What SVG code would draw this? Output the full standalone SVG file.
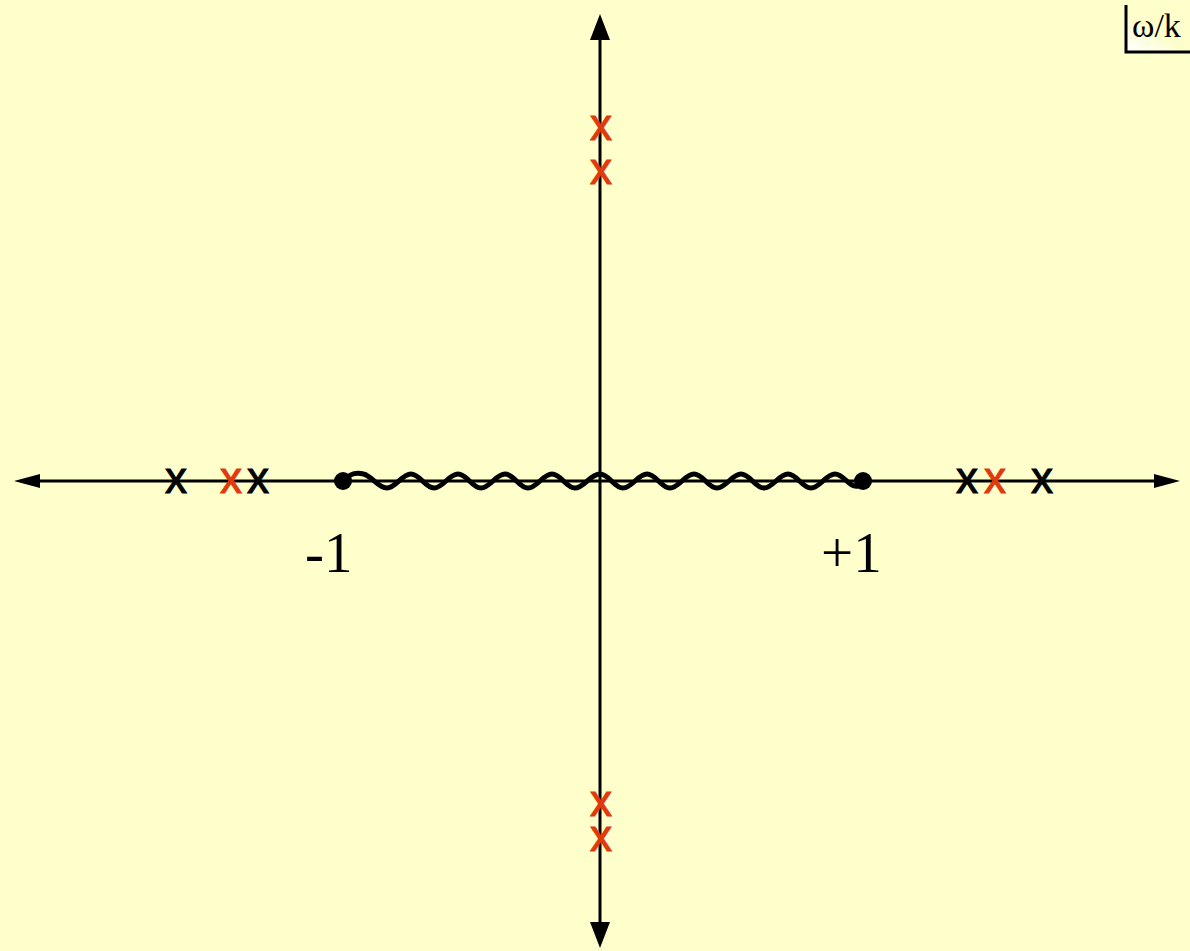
<svg xmlns="http://www.w3.org/2000/svg" width="1190" height="951" viewBox="0 0 1190 951">
<defs>
<style>
.ax{stroke:#000;stroke-width:3;fill:none}
.xm{font-family:"Liberation Sans",Arial,sans-serif;font-size:44px;text-anchor:middle;stroke-width:1}
.blk{fill:#000;stroke:#000}
.red{fill:#e03a0c;stroke:#e03a0c}
.lbl{font-family:"Liberation Serif","Times New Roman",serif;font-size:57px;fill:#000}
</style>
<linearGradient id="wg" x1="0" y1="1" x2="1" y2="0">
<stop offset="0" stop-color="#ffffff" stop-opacity="1"/>
<stop offset="1" stop-color="#ffffcc" stop-opacity="0"/>
</linearGradient>
</defs>
<rect width="1190" height="951" fill="#ffffcc"/>
<g id="connectors">
<line class="ax" x1="38" y1="481" x2="1156" y2="481"/>
<polygon points="14,481 40,474 40,488" fill="#000"/>
<polygon points="1180,481 1154,474 1154,488" fill="#000"/>
<line class="ax" x1="600" y1="38" x2="600" y2="924"/>
<polygon points="600,14 590,40 610,40" fill="#000"/>
<polygon points="600,948 590,922 610,922" fill="#000"/>
<path id="wave" fill="none" stroke="#000" stroke-width="5" d="M343,481 C350,473 356,472 363.5,474 C372,476 378,488 387,488 C396,488 402,474 410.8,474 C420,474 425,488 434.1,488 C443,488 449,474 458,474 C467,474 472,488 481,488 C490,488 496,474 505,474 C514,474 519,488 528,488 C537,488 543,474 552,474 C561,474 566,488 575,488 C584,488 590,474 600,474 C609,474 614,488 623,488 C632,488 638,474 647,474 C656,474 661,488 670,488 C679,488 685,474 694,474 C703,474 708,488 717,488 C726,488 732,474 741,474 C750,474 755,488 764,488 C773,488 779,474 788,474 C797,474 802,488 811,488 C820,488 826,474 835,474 C844,474 849,488 858,486 L863,481"/>
</g>
<g id="endpoints">
<circle cx="343" cy="481" r="9" fill="#000"/>
<circle cx="863" cy="481" r="9" fill="#000"/>
</g>
<g id="poles-real">
<text class="xm blk" x="176" y="492.5">x</text>
<text class="xm red" x="231" y="492.5">x</text>
<text class="xm blk" x="258" y="492.5">x</text>
<text class="xm blk" x="967" y="492.5">x</text>
<text class="xm red" x="995" y="492.5">x</text>
<text class="xm blk" x="1042" y="492.5">x</text>
</g>
<g id="poles-imag">
<text class="xm red" x="601" y="140">x</text>
<text class="xm red" x="601" y="183.5">x</text>
<text class="xm red" x="601" y="815.5">x</text>
<text class="xm red" x="601" y="850.5">x</text>
</g>
<g id="labels">
<text class="lbl" x="305" y="572">-1</text>
<text class="lbl" x="821" y="572">+1</text>
</g>
<g id="corner-label">
<polygon points="1127,18 1127,51 1178,51" fill="url(#wg)"/>
<polyline points="1126,5 1126,52 1190,52" fill="none" stroke="#000" stroke-width="3"/>
<text x="1132" y="37" font-family="Liberation Serif,'Times New Roman',serif" font-size="34" fill="#000">ω/k</text>
</g>
</svg>
